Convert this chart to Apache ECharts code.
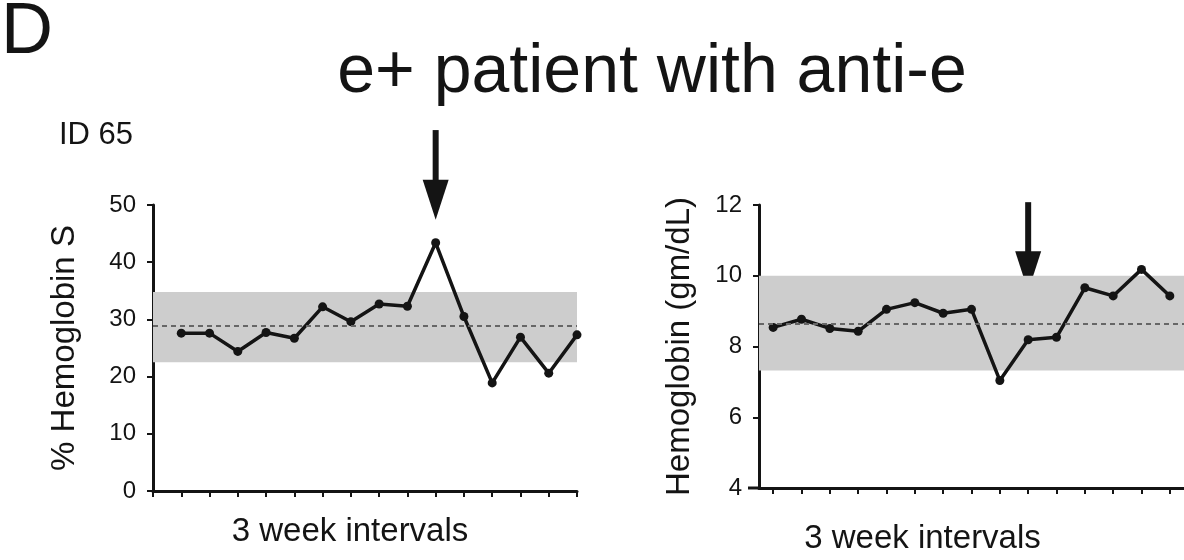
<!DOCTYPE html>
<html><head><meta charset="utf-8">
<script src="https://cdn.jsdelivr.net/npm/echarts@6/dist/echarts.min.js"></script>
<style>html,body{margin:0;padding:0;background:#fff}#c{width:1184px;height:560px}</style>
</head><body><div id="c"></div>
<script>
// ---- data ----
const intervals = ['1','2','3','4','5','6','7','8','9','10','11','12','13','14','15'];
const hbsValues = [27.6, 27.6, 24.4, 27.7, 26.7, 32.2, 29.6, 32.7, 32.3, 43.4, 30.5, 18.9, 26.9, 20.6, 27.3];
const hbValues  = [8.54, 8.77, 8.51, 8.43, 9.05, 9.24, 8.94, 9.05, 7.04, 8.19, 8.26, 9.66, 9.43, 10.18, 9.43];
const hbsBand = [22.5, 34.8];
const hbsMean = 28.9;
const hbBand = [7.32, 10.0];
const hbMean = 8.63;
const hbsAxis = [0, 50, 10];   // min, max, interval
const hbAxis = [4, 12, 2];
const hbsArrow = [10, 63.1, 47.4];  // x, from-y, tip-y (data units)
const hbArrow = [9, 12.08, 9.56];   // category index, from-y, tip-y

const INK = '#141414';
const FONT = 'Liberation Sans, Arial, sans-serif';

const chart = echarts.init(document.getElementById('c'), null, {renderer: 'canvas'});

function yAxisCfg(range, name, gap, idx) {
  return {
    type: 'value', gridIndex: idx, min: range[0], max: range[1], interval: range[2],
    name: name, nameLocation: 'middle', nameGap: gap,
    nameTextStyle: {fontFamily: FONT, fontSize: 33, color: INK},
    axisLine: {show: true, lineStyle: {color: INK, width: 3}},
    axisTick: {show: true, length: 6, lineStyle: {color: INK, width: 2}},
    axisLabel: {fontFamily: FONT, fontSize: 24, color: INK, margin: 17},
    splitLine: {show: false}
  };
}

chart.setOption({
  animation: false,
  backgroundColor: '#fff',
  title: [
    {text: 'D', left: -4, top: -8, textStyle: {fontFamily: FONT, fontSize: 72, fontWeight: 'normal', color: INK}},
    {text: 'e+ patient with anti-e', left: 647, textAlign: 'center', top: 34, textStyle: {fontFamily: FONT, fontSize: 68, fontWeight: 'normal', color: INK}},
    {text: 'ID 65', left: 54, top: 115, textStyle: {fontFamily: FONT, fontSize: 31, fontWeight: 'normal', color: INK}}
  ],
  grid: [
    {left: 153, top: 205, width: 424, height: 286},
    {left: 759, top: 205, width: 425, height: 285}
  ],
  xAxis: [
    {type: 'value', gridIndex: 0, min: 0, max: 15, interval: 1,
     name: '3 week intervals', nameLocation: 'middle', nameGap: 24,
     nameTextStyle: {fontFamily: FONT, fontSize: 33, color: INK, padding: [0, 30, 0, 0]},
     axisLine: {lineStyle: {color: INK, width: 3}},
     axisTick: {show: true, length: 6, lineStyle: {color: INK, width: 2}},
     axisLabel: {show: false}, splitLine: {show: false}},
    {type: 'category', gridIndex: 1, data: intervals, boundaryGap: true,
     name: '3 week intervals', nameLocation: 'middle', nameGap: 34,
     nameTextStyle: {fontFamily: FONT, fontSize: 33, color: INK, padding: [0, 98, 0, 0]},
     axisLine: {show: true, lineStyle: {color: INK, width: 3}},
     axisTick: {show: true, alignWithLabel: true, interval: 0, length: 6, lineStyle: {color: INK, width: 2}},
     axisLabel: {show: false, interval: 0}, splitLine: {show: false}}
  ],
  yAxis: [
    yAxisCfg(hbsAxis, '% Hemoglobin S', 72, 0),
    yAxisCfg(hbAxis, 'Hemoglobin (gm/dL)', 63, 1)
  ],
  series: [
    {type: 'line', xAxisIndex: 0, yAxisIndex: 0,
     data: hbsValues.map((v, i) => [i + 1, v]),
     symbol: 'circle', symbolSize: 9,
     lineStyle: {color: INK, width: 3.5}, itemStyle: {color: INK},
     markArea: {silent: true, itemStyle: {color: '#cdcdcd'}, data: [[{yAxis: hbsBand[0]}, {yAxis: hbsBand[1]}]]},
     markLine: {silent: true, symbol: ['none', 'none'], label: {show: false},
       lineStyle: {color: '#666', width: 2, type: [5, 4]}, data: [{yAxis: hbsMean}]}},
    {type: 'line', xAxisIndex: 1, yAxisIndex: 1,
     data: hbValues,
     symbol: 'circle', symbolSize: 9,
     lineStyle: {color: INK, width: 3.5}, itemStyle: {color: INK},
     markArea: {silent: true, itemStyle: {color: '#cdcdcd'}, data: [[{yAxis: hbBand[0]}, {yAxis: hbBand[1]}]]},
     markLine: {silent: true, symbol: ['none', 'none'], label: {show: false},
       lineStyle: {color: '#666', width: 2, type: [5, 4]}, data: [{yAxis: hbMean}]}}
  ]
});

function arrow(grid, spec) {
  const p0 = chart.convertToPixel({gridIndex: grid}, [spec[0], spec[1]]);
  const p1 = chart.convertToPixel({gridIndex: grid}, [spec[0], spec[2]]);
  const head = 40, half = 13;
  return [
    {type: 'line', shape: {x1: p0[0], y1: p0[1], x2: p1[0], y2: p1[1] - head + 2}, style: {stroke: INK, lineWidth: 6}, silent: true},
    {type: 'polygon', shape: {points: [[p1[0] - half, p1[1] - head], [p1[0] + half, p1[1] - head], [p1[0], p1[1]]]}, style: {fill: INK}, silent: true}
  ];
}
const firstCenter = chart.convertToPixel({xAxisIndex: 1}, 0);
const secondCenter = chart.convertToPixel({xAxisIndex: 1}, 1);
const yAxisX = firstCenter - (secondCenter - firstCenter) / 2;
const baseY = chart.convertToPixel({yAxisIndex: 1}, hbAxis[0]);
chart.setOption({
  graphic: [
    ...arrow(0, hbsArrow),
    ...arrow(1, hbArrow),
    {type: 'line', shape: {x1: yAxisX - 11, y1: baseY, x2: yAxisX, y2: baseY}, style: {stroke: INK, lineWidth: 3}, silent: true}
  ]
});
</script>
</body></html>
